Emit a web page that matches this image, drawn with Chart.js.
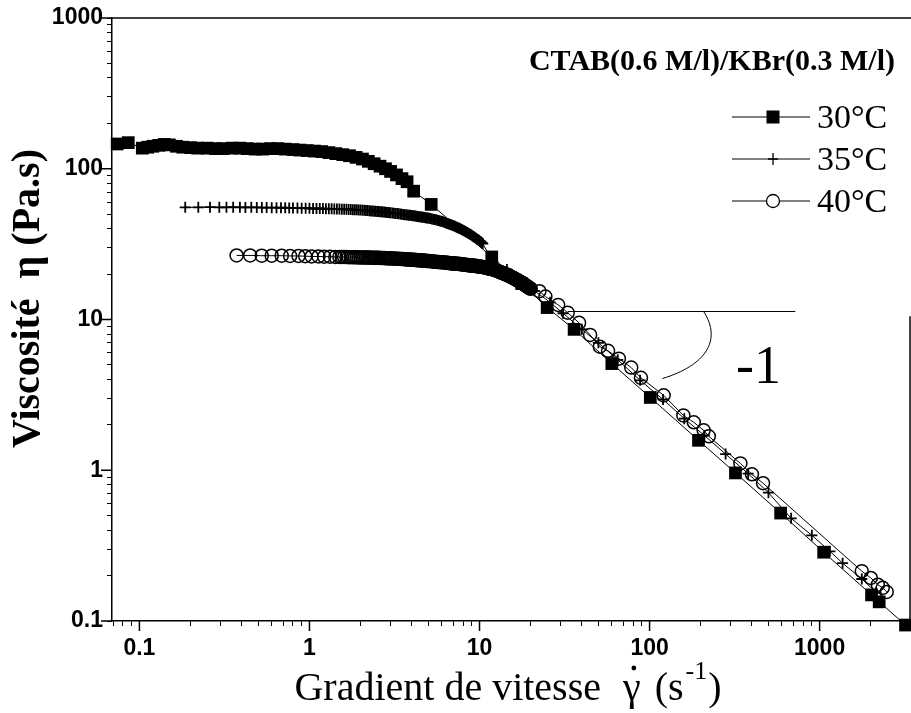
<!DOCTYPE html>
<html><head><meta charset="utf-8">
<script src="https://cdn.jsdelivr.net/npm/chart.js@4.4.0/dist/chart.umd.min.js"></script>
<style>html,body{margin:0;padding:0;background:#fff;}#wrap{width:911px;height:713px;}</style>
</head><body><div id="wrap"><canvas id="c" width="911" height="713"></canvas></div>
<script>
// ---- data ----
const seriesNames = ['30°C', '35°C', '40°C'];
const legendTitle = 'CTAB(0.6 M/l)/KBr(0.3 M/l)';
const xTickLabels = ['0.1', '1', '10', '100', '1000'];
const yTickLabels = ['0.1', '1', '10', '100', '1000'];
const xTitleParts = ['Gradient de vitesse', '\u03B3', '(s', '-1', ')'];
const yTitle = 'Viscosité  \u03B7 (Pa.s)';

const rate30 = [0.074,0.086,0.104,0.112,0.12,0.13,0.14,0.15,0.165,0.18,0.2,0.22,0.25,0.28,0.31,0.35,0.39,0.43,0.48,0.53,0.59,0.65,0.72,0.8,0.88,0.97,1.07,1.18,1.3,1.43,1.57,1.72,1.88,2.05,2.22,2.4,2.6,2.8,3.0,3.25,3.5,3.75,4.1,5.2,11.8,17.7,25,36,60,101,194,320,590,1056,2020,2240,3200];
const visc30 = [146,149,137,139,141,143,145,144,141,139,138,137,137,136,136,137,137,136,135,135,136,136,135,134,133,132,131,130,128,126,124,122,119,116,112,108,104,100,96,91,86,82,71,58,26,17.3,12,8.6,5.1,3.04,1.58,0.96,0.52,0.286,0.149,0.134,0.094];

const rate35 = [0.186,0.222,0.26,0.295,0.325,0.356,0.39,0.42,0.455,0.49,0.525,0.56,0.6,0.64,0.68,0.72,0.76,0.8,0.85,0.9,0.95,
  1.00,1.05,1.10,1.15,1.20,1.25,1.30,1.35,1.40,1.45,1.50,1.55,1.60,1.65,1.70,1.75,1.80,1.85,1.90,1.95,2.00,
  2.05,2.10,2.15,2.20,2.25,2.30,2.35,2.40,2.45,2.50,2.55,2.60,2.65,2.70,2.75,2.80,2.85,2.90,2.95,3.00,
  3.07,3.14,3.21,3.28,3.35,3.42,3.49,3.56,3.63,3.70,3.77,3.84,3.91,3.98,4.05,4.12,4.19,4.26,4.33,4.40,
  4.47,4.54,4.61,4.68,4.75,4.82,4.89,4.96,
  5.05,5.15,5.25,5.35,5.45,5.55,5.65,5.75,5.85,5.95,6.05,6.15,6.25,6.35,6.45,6.55,6.65,6.75,6.85,6.95,
  7.05,7.15,7.25,7.35,7.45,7.55,7.65,7.75,7.85,7.95,8.05,8.15,8.25,8.35,8.45,8.55,8.65,8.75,8.85,8.95,
  9.05,9.15,9.25,9.35,9.45,9.55,9.65,9.75,9.85,9.95,10.05,10.15,10.25,10.35,10.45,
  12,14.5,17.5,21,26,31,40,50,65,88,120,160,210,280,380,500,680,900,1150,1365,1770,2150];
const visc35 = [55.5,55.5,55.6,55.5,55.5,55.6,55.5,55.4,55.5,55.4,55.3,55.3,55.2,55.2,55.1,55.1,55.0,55.0,54.9,54.8,54.7,
  54.6,54.5,54.5,54.4,54.4,54.3,54.2,54.2,54.1,54.1,54.0,53.9,53.8,53.8,53.7,53.6,53.5,53.4,53.4,53.3,53.2,
  53.1,53.0,52.9,52.8,52.7,52.5,52.4,52.3,52.2,52.1,52.0,51.9,51.8,51.7,51.6,51.4,51.3,51.2,51.1,51.0,
  50.8,50.7,50.5,50.4,50.2,50.1,49.9,49.8,49.6,49.5,49.3,49.2,49.1,48.9,48.8,48.7,48.5,48.4,48.3,48.1,
  48.0,47.9,47.7,47.6,47.5,47.3,47.2,47.1,
  46.9,46.7,46.5,46.3,46.1,45.9,45.6,45.3,45.1,44.8,44.6,44.3,44.0,43.7,43.4,43.2,42.9,42.6,42.3,42.0,
  41.8,41.5,41.2,40.9,40.6,40.4,40.1,39.8,39.5,39.2,38.9,38.6,38.3,38.0,37.7,37.5,37.2,36.9,36.6,36.3,
  36.0,35.7,35.4,35.1,34.8,34.5,34.2,33.9,33.7,33.4,33.1,32.8,32.5,32.2,31.9,
  24,21.5,18.5,15.5,13,11,8.6,7.0,5.4,3.95,2.95,2.2,1.7,1.28,0.95,0.71,0.48,0.37,0.29,0.242,0.19,0.155];

const rate40 = [0.373,0.448,0.524,0.600,0.687,0.770,0.862,0.944,
  1.03,1.13,1.22,1.32,1.42,
  1.50,1.55,1.60,1.65,1.70,1.75,1.80,1.85,1.90,1.95,2.00,2.05,2.10,2.15,2.20,2.25,2.30,2.35,2.40,2.45,
  2.50,2.55,2.60,2.65,2.70,2.75,2.80,2.85,2.90,2.95,3.00,
  3.07,3.14,3.21,3.28,3.35,3.42,3.49,3.56,3.63,3.70,3.77,3.84,3.91,3.98,4.05,4.12,4.19,4.26,4.33,4.40,
  4.47,4.54,4.61,4.68,4.75,4.82,4.89,4.96,
  5.05,5.15,5.25,5.35,5.45,5.55,5.65,5.75,5.85,5.95,6.05,6.15,6.25,6.35,6.45,6.55,6.65,6.75,6.85,6.95,
  7.05,7.15,7.25,7.35,7.45,7.55,7.65,7.75,7.85,7.95,8.05,8.15,8.25,8.35,8.45,8.55,8.65,8.75,8.85,8.95,
  9.05,9.15,9.25,9.35,9.45,9.55,9.65,9.75,9.85,9.95,
  10.1,10.25,10.4,10.55,10.7,10.85,11.0,11.15,11.3,11.45,11.6,11.75,11.9,12.05,12.2,12.35,12.5,12.65,12.8,12.95,
  13.1,13.25,13.4,13.55,13.7,13.85,14.0,14.15,14.3,14.45,14.6,14.75,14.9,15.05,15.2,15.35,15.5,15.65,15.8,15.95,
  16.1,16.25,16.4,16.55,16.7,16.85,17.0,17.15,17.3,17.45,17.6,17.75,17.9,18.05,18.2,18.35,18.5,18.65,18.8,18.95,
  19.1,19.25,19.4,19.55,19.7,19.85,20.0,
  22.5,24.4,29,33,38.5,44.7,51,57,66,78,89,121,158,182,208,223,342,400,465,1770,2000,2200,2350,2480];
const visc40 = [26.6,26.6,26.5,26.5,26.5,26.4,26.4,26.3,
  26.2,26.2,26.1,26.1,26.0,
  26.0,26.0,26.0,25.95,25.9,25.9,25.9,25.85,25.85,25.8,25.8,25.8,25.8,25.75,25.75,25.75,25.7,25.7,25.7,25.7,
  25.65,25.65,25.6,25.6,25.55,25.55,25.5,25.5,25.45,25.45,25.4,
  25.4,25.4,25.3,25.3,25.3,25.2,25.2,25.2,25.1,25.1,25.0,25.0,25.0,24.9,24.9,24.9,24.8,24.8,24.7,24.7,
  24.7,24.6,24.6,24.6,24.5,24.5,24.4,24.4,
  24.4,24.3,24.3,24.2,24.2,24.2,24.1,24.1,24.0,24.0,24.0,23.9,23.9,23.8,23.8,23.7,23.7,23.6,23.6,23.5,
  23.5,23.5,23.4,23.4,23.4,23.3,23.3,23.3,23.2,23.2,23.2,23.1,23.1,23.0,23.0,23.0,22.9,22.9,22.8,22.8,
  22.8,22.7,22.7,22.7,22.6,22.6,22.6,22.5,22.5,22.5,
  22.45,22.4,22.3,22.25,22.15,22.1,22.0,21.9,21.85,21.75,21.7,21.6,21.55,21.45,21.35,21.25,21.15,21.05,20.95,20.85,
  20.7,20.6,20.5,20.4,20.3,20.2,20.1,20.0,19.9,19.8,19.7,19.6,19.5,19.35,19.25,19.15,19.05,18.95,18.85,18.75,
  18.6,18.5,18.4,18.3,18.2,18.1,18.0,17.9,17.8,17.7,17.6,17.5,17.4,17.25,17.15,17.05,16.95,16.85,16.75,16.65,
  16.55,16.45,16.35,16.25,16.15,16.05,16.0,
  15.4,14.2,12.5,11.1,9.5,7.9,6.6,6.2,5.5,4.8,4.1,3.14,2.31,2.08,1.84,1.68,1.11,0.94,0.82,0.214,0.193,0.174,0.166,0.156];

// slope guide (horizontal reference line, arc and "-1" label), in data units
const guideRate = [33, 720];
const guideVisc = [11.3, 11.3];
const arcRate = [208, 268, 213, 119];
const arcVisc = [11.3, 7.26, 4.95, 4.06];
const slopeLabel = '-1';
const slopeLabelAt = [437, 4.73];

const xRange = [0.069, 3400];
const yRange = [0.1, 1000];

// ---- helpers ----
const pts = (xs, ys) => xs.map((x, i) => ({x, y: ys[i]}));
function logTicks(min, max) {
  const out = [];
  for (let e = Math.floor(Math.log10(min)); e <= Math.ceil(Math.log10(max)); e++) {
    for (let m = 1; m <= 9; m++) {
      const v = +(m * Math.pow(10, e)).toPrecision(6);
      if (v >= min - 1e-12 && v <= max + 1e-9) out.push({value: v, major: m === 1});
    }
  }
  return out;
}
function decadeLabel(labels) {
  return (v) => {
    const l = Math.log10(v);
    if (Math.abs(l - Math.round(l)) < 1e-6) {
      const idx = Math.round(l) + 1;
      return labels[idx] !== undefined ? labels[idx] : '';
    }
    return '';
  };
}
const SERIF = '"Liberation Serif", "Times New Roman", serif';

const axisDecor = {
  id: 'axisDecor',
  afterDraw(chart) {
    const {ctx, chartArea: a} = chart;
    const xs = chart.scales.x, ys = chart.scales.y;
    ctx.save();
    ctx.strokeStyle = '#000'; ctx.lineWidth = 1.5;
    xs.ticks.filter(t => t.major).forEach(t => {
      const p = xs.getPixelForValue(t.value);
      ctx.beginPath(); ctx.moveTo(p, a.bottom); ctx.lineTo(p, a.bottom + 10); ctx.stroke();
    });
    ys.ticks.filter(t => t.major).forEach(t => {
      const p = ys.getPixelForValue(t.value);
      ctx.beginPath(); ctx.moveTo(a.left, p); ctx.lineTo(a.left - 11, p); ctx.stroke();
    });
    // frame: top and partial right
    ctx.beginPath(); ctx.moveTo(a.left, a.top); ctx.lineTo(a.right + 1, a.top); ctx.stroke();
    ctx.beginPath(); ctx.moveTo(a.right, a.bottom); ctx.lineTo(a.right, ys.getPixelForValue(10.5)); ctx.stroke();

    ctx.fillStyle = '#000';
    // y axis title
    ctx.save();
    ctx.font = 'bold 40px ' + SERIF;
    ctx.textAlign = 'center'; ctx.textBaseline = 'middle';
    ctx.translate(29, (a.top + a.bottom) / 2 - 21);
    ctx.rotate(-Math.PI / 2);
    ctx.fillText(yTitle, 0, 0);
    ctx.restore();

    // x axis title: "Gradient de vitesse  γ̇  (s^-1)"
    const big = '40px ' + SERIF, small = '26px ' + SERIF;
    const segs = [
      {t: xTitleParts[0], f: big, gapAfter: 22},
      {t: xTitleParts[1], f: big, gapAfter: 14, dot: true},
      {t: xTitleParts[2], f: big, gapAfter: 2},
      {t: xTitleParts[3], f: small, gapAfter: 1, rise: 21},
      {t: xTitleParts[4], f: big, gapAfter: 0}
    ];
    let total = 0;
    segs.forEach(s => { ctx.font = s.f; s.w = ctx.measureText(s.t).width; total += s.w + s.gapAfter; });
    let x = (a.left + a.right) / 2 - 3 - total / 2;
    const base = 700;
    ctx.textAlign = 'left'; ctx.textBaseline = 'alphabetic';
    segs.forEach(s => {
      ctx.font = s.f;
      ctx.fillText(s.t, x, base - (s.rise || 0));
      if (s.dot) {
        ctx.beginPath(); ctx.arc(x + s.w / 2 + 2, base - 32, 2.4, 0, Math.PI * 2); ctx.fill();
      }
      x += s.w + s.gapAfter;
    });
    ctx.restore();
  }
};

const slopeGuide = {
  id: 'slopeGuide',
  afterDatasetsDraw(chart) {
    const {ctx} = chart;
    const xs = chart.scales.x, ys = chart.scales.y;
    const P = i => [xs.getPixelForValue(arcRate[i]), ys.getPixelForValue(arcVisc[i])];
    ctx.save();
    ctx.strokeStyle = '#000'; ctx.lineWidth = 1;
    ctx.beginPath();
    const p0 = P(0), p1 = P(1), p2 = P(2), p3 = P(3);
    ctx.moveTo(p0[0], p0[1]);
    ctx.bezierCurveTo(p1[0], p1[1], p2[0], p2[1], p3[0], p3[1]);
    ctx.stroke();
    ctx.fillStyle = '#000';
    ctx.font = '54px ' + SERIF;
    ctx.textAlign = 'center'; ctx.textBaseline = 'middle';
    ctx.fillText(slopeLabel, xs.getPixelForValue(slopeLabelAt[0]), ys.getPixelForValue(slopeLabelAt[1]));
    ctx.restore();
  }
};

const legendBox = {
  id: 'legendBox',
  afterDraw(chart) {
    const {ctx, chartArea: a} = chart;
    ctx.save();
    ctx.fillStyle = '#000'; ctx.strokeStyle = '#000';
    ctx.font = 'bold 30px ' + SERIF;
    ctx.textAlign = 'right'; ctx.textBaseline = 'middle';
    ctx.fillText(legendTitle, a.right - 15, a.top + 44);
    ctx.textAlign = 'left';
    ctx.font = '34px ' + SERIF;
    seriesNames.forEach((name, i) => {
      const y = a.top + 99 + i * 42;
      const x0 = a.right - 178, x1 = a.right - 100, xm = a.right - 137;
      ctx.lineWidth = 1;
      ctx.beginPath(); ctx.moveTo(x0, y); ctx.lineTo(x1, y); ctx.stroke();
      if (i === 0) {
        ctx.fillRect(xm - 6.5, y - 6.5, 13, 13);
      } else if (i === 1) {
        ctx.lineWidth = 1.3;
        ctx.beginPath(); ctx.moveTo(xm - 5, y); ctx.lineTo(xm + 5, y);
        ctx.moveTo(xm, y - 6); ctx.lineTo(xm, y + 6); ctx.stroke();
      } else {
        ctx.lineWidth = 1.3;
        ctx.fillStyle = '#fff';
        ctx.beginPath(); ctx.arc(xm, y, 6.5, 0, Math.PI * 2); ctx.fill(); ctx.stroke();
        ctx.fillStyle = '#000';
      }
      ctx.fillText(name, a.right - 93, y + 2);
    });
    ctx.restore();
  }
};

const yTickFont = {family: '"Liberation Sans", Arial, sans-serif', size: 23, weight: 'bold'};
const xTickFont = {family: '"Liberation Sans", Arial, sans-serif', size: 23, weight: 'bold', lineHeight: 1.9};

new Chart(document.getElementById('c'), {
  type: 'scatter',
  data: {
    datasets: [
      {label: seriesNames[0], data: pts(rate30, visc30), showLine: true, clip: false,
       borderColor: '#000', borderWidth: 1, pointStyle: 'rect', pointRadius: 9,
       pointBackgroundColor: '#000', pointBorderColor: '#000', pointBorderWidth: 0},
      {label: seriesNames[1], data: pts(rate35, visc35), showLine: true, clip: false,
       borderColor: '#000', borderWidth: 1, pointStyle: 'cross', pointRadius: 5.5,
       pointBorderColor: '#000', pointBorderWidth: 1.8},
      {label: seriesNames[2], data: pts(rate40, visc40), showLine: true, clip: false,
       borderColor: '#000', borderWidth: 1, pointStyle: 'circle', pointRadius: 6.5,
       pointBackgroundColor: 'rgba(255,255,255,0)', pointBorderColor: '#000', pointBorderWidth: 1.5},
      {label: 'guide', data: pts(guideRate, guideVisc), showLine: true,
       borderColor: '#000', borderWidth: 1, pointRadius: 0}
    ]
  },
  options: {
    responsive: false, animation: false, events: [],
    layout: {autoPadding: false, padding: {left: 0, right: 1, top: 18, bottom: 0}},
    plugins: {legend: {display: false}, tooltip: {enabled: false}},
    scales: {
      x: {
        type: 'logarithmic', min: xRange[0], max: xRange[1],
        afterFit: s => { s.height = 92; },
        afterBuildTicks: s => { s.ticks = logTicks(xRange[0], xRange[1]); },
        grid: {display: true, drawOnChartArea: false, drawTicks: true, tickLength: 5, tickColor: '#000', tickWidth: 1},
        border: {display: true, color: '#000', width: 1.5},
        ticks: {autoSkip: false, maxRotation: 0, padding: 1, color: '#000', font: xTickFont, callback: decadeLabel(xTickLabels)},
        title: {display: false}
      },
      y: {
        type: 'logarithmic', min: yRange[0], max: yRange[1],
        afterFit: s => { s.width = 112; },
        afterBuildTicks: s => { s.ticks = logTicks(yRange[0], yRange[1]); },
        grid: {display: true, drawOnChartArea: false, drawTicks: true, tickLength: 5, tickColor: '#000', tickWidth: 1},
        border: {display: true, color: '#000', width: 1.5},
        ticks: {autoSkip: false, padding: 4, color: '#000', font: yTickFont, callback: decadeLabel(yTickLabels)},
        title: {display: false}
      }
    }
  },
  plugins: [axisDecor, slopeGuide, legendBox]
});
</script>
</body></html>
